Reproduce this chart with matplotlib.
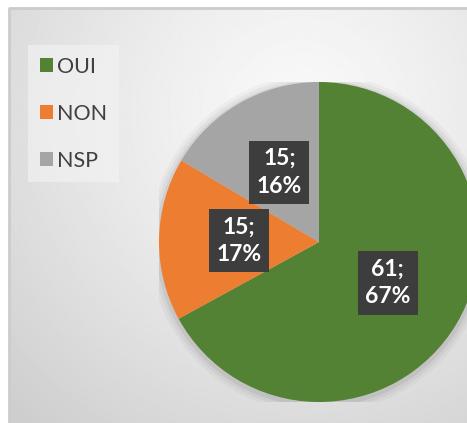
import numpy as np
import matplotlib
matplotlib.use("Agg")
import matplotlib.pyplot as plt

# data
categories = ["OUI", "NON", "NSP"]
counts = [61, 15, 15]
percent_labels = ["67%", "17%", "16%"]
colors = ["#548235", "#ed7d31", "#a5a5a5"]

plt.rcParams['font.family'] = ['Lato', 'DejaVu Sans']

W, H = 467, 423
fig = plt.figure(figsize=(W / 100, H / 100), dpi=100)
fig.patch.set_facecolor("white")

# background panel with a soft radial gradient
bg = fig.add_axes([9 / W, -0.05, 1.05 - 9 / W, 1.05 - 8 / H])
yy, xx = np.mgrid[0:H + 30, 0:W + 30]
d = np.hypot(xx - 300, yy - 110) / 430.0
shade = 0.975 - 0.17 * np.clip(d, 0, 1) ** 1.3
bg.imshow(shade, cmap="gray", vmin=0, vmax=1, aspect="auto",
          extent=[0, 1, 0, 1], origin="upper", interpolation="bilinear")
bg.set_xlim(0, 1)
bg.set_ylim(0, 1)
bg.set_axis_off()
# frame lines on the left and top
fig.add_artist(plt.Line2D([9 / W, 9 / W, 1], [0, 1 - 8 / H, 1 - 8 / H],
                          color="#cccccc", lw=2))

# pie: centre at (319, 242) px, radius 160 px
cx, cy, r = 319, H - 242, 160
ax = fig.add_axes([(cx - r) / W, (cy - r) / H, 2 * r / W, 2 * r / H])
ax.patch.set_alpha(0)

# faint shadow around the pie
for k, a in zip([1.06, 1.04, 1.02], [0.03, 0.04, 0.06]):
    ax.add_patch(plt.Circle((0.0, -0.01), k, color="black", alpha=a, lw=0))

wedges, _ = ax.pie(counts, colors=colors, startangle=90, counterclock=False,
                   radius=1, wedgeprops=dict(linewidth=0))
ax.set_xlim(-1, 1)
ax.set_ylim(-1, 1)
ax.set_axis_off()

for w, n, p in zip(wedges, counts, percent_labels):
    mid = np.deg2rad((w.theta1 + w.theta2) / 2)
    x, y = 0.5 * np.cos(mid), 0.5 * np.sin(mid)
    ax.text(x, y, f"{n};\n{p}", ha="center", va="center", color="white",
            fontsize=16.5, fontweight="bold", linespacing=1.4,
            bbox=dict(boxstyle="square,pad=0.32", facecolor="#3d3d3d",
                      edgecolor="none"))

leg = fig.legend(wedges, categories, loc="upper left",
                 bbox_to_anchor=(28 / W, 1 - 45 / H), fontsize=15.5,
                 frameon=True, facecolor="#f4f4f4", edgecolor="none",
                 framealpha=0.6, handlelength=0.6, handleheight=0.6,
                 handletextpad=0.2, labelspacing=1.25, borderpad=0.55,
                 borderaxespad=0, fancybox=False)
for t in leg.get_texts():
    t.set_color("#404040")

fig.savefig("out.png", dpi=100)
